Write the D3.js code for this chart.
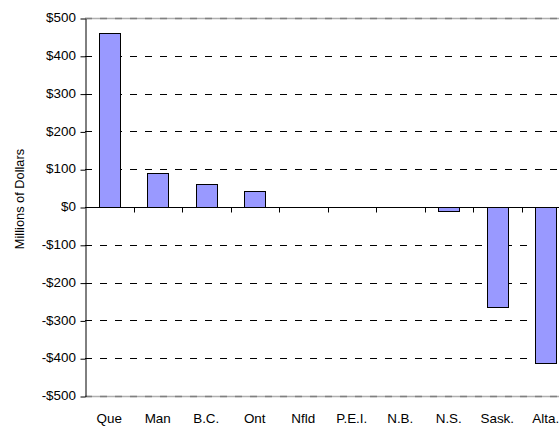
<!DOCTYPE html>
<html>
<head>
<meta charset="utf-8">
<script src="https://cdn.jsdelivr.net/npm/d3@7"></script>
<style>
  body { margin: 0; background: #fff; }
  svg { display: block; font-family: "Liberation Sans", Arial, sans-serif; }
  .tick-label { font-size: 12px; fill: #000; }
  .grid { stroke: #000; stroke-dasharray: 7,8; shape-rendering: crispEdges; }
  .bar { fill: #9999ff; stroke: #000; stroke-width: 1; }
</style>
</head>
<body>
<svg id="chart" width="559" height="427"></svg>
<script>
// data
const provinces = ["Que", "Man", "B.C.", "Ont", "Nfld", "P.E.I.", "N.B.", "N.S.", "Sask.", "Alta."];
const amounts = [460, 91, 61, 43, 0, 0, 0, -11, -264, -414];
const yTicks = [500, 400, 300, 200, 100, 0, -100, -200, -300, -400, -500];

const svg = d3.select("#chart");
const plotLeft = 85, plotTop = 18, plotW = 485, plotH = 378;
const stretch = 1.12; // the source picture's text is a bit wide

const x = d3.scaleBand().domain(provinces).range([plotLeft, plotLeft + plotW]).paddingInner(0.57).paddingOuter(0.285);
const y = d3.scaleLinear().domain([-500, 500]).range([plotTop + plotH, plotTop]);
const xGrid = d3.scaleBand().domain(provinces).range([plotLeft, plotLeft + plotW]);

const fmt = v => (v < 0 ? "-$" : "$") + Math.abs(v);

// gridlines
svg.append("g").selectAll("line")
  .data(yTicks.filter(v => v !== 0 && Math.abs(v) !== 500))
  .join("line")
  .attr("class", "grid")
  .attr("x1", plotLeft).attr("x2", plotLeft + plotW)
  .attr("y1", d => Math.round(y(d)) + 0.5).attr("y2", d => Math.round(y(d)) + 0.5);

// top and bottom frame lines, gray
[500, -500].forEach(v => {
  const yy = Math.round(y(v)) + 0.5;
  svg.append("line").attr("x1", plotLeft).attr("x2", plotLeft + plotW).attr("y1", yy).attr("y2", yy)
    .attr("stroke", "#b0b0b0").attr("stroke-width", 1.5);
  svg.append("line").attr("x1", plotLeft).attr("x2", plotLeft + plotW).attr("y1", yy).attr("y2", yy)
    .attr("stroke", "#808080").attr("stroke-width", 1.5).attr("stroke-dasharray", "7,8");
});

// bars
svg.append("g").selectAll("rect")
  .data(provinces.map((p, i) => ({ p, v: amounts[i] })).filter(d => d.v !== 0))
  .join("rect")
  .attr("class", "bar")
  .attr("x", d => Math.round(x(d.p)) + 0.5)
  .attr("width", Math.round(x.bandwidth()))
  .attr("y", d => Math.round(y(Math.max(0, d.v))) + 0.5)
  .attr("height", d => Math.round(Math.abs(y(d.v) - y(0))));

// y axis (line + ticks from d3, labels drawn stretched)
const yAxis = d3.axisLeft(y).tickValues(yTicks).tickFormat("").tickSize(5).tickSizeOuter(0);
const yg = svg.append("g").attr("transform", `translate(${plotLeft + 0.5},0.5)`).call(yAxis);
yg.select(".domain").attr("stroke", "#000");
svg.append("g").selectAll("text")
  .data(yTicks)
  .join("text")
  .attr("class", "tick-label")
  .attr("text-anchor", "end")
  .attr("dy", "0.35em")
  .attr("transform", d => `translate(76,${y(d)}) scale(${stretch},1)`)
  .text(fmt);

// zero line with category tick marks
const zy = Math.round(y(0)) + 0.5;
svg.append("line").attr("x1", plotLeft).attr("x2", plotLeft + plotW).attr("y1", zy).attr("y2", zy)
  .attr("stroke", "#000").attr("stroke-width", 1.2);
svg.append("g").selectAll("line")
  .data(provinces.slice(1))
  .join("line")
  .attr("x1", d => Math.round(xGrid(d)) + 0.5).attr("x2", d => Math.round(xGrid(d)) + 0.5)
  .attr("y1", zy).attr("y2", zy + 5)
  .attr("stroke", "#000");

// category labels
svg.append("g").selectAll("text")
  .data(provinces)
  .join("text")
  .attr("class", "tick-label")
  .attr("text-anchor", "middle")
  .attr("transform", d => `translate(${xGrid(d) + xGrid.bandwidth() / 2},423) scale(${stretch},1)`)
  .text(d => d);

// axis title
svg.append("text")
  .attr("class", "tick-label")
  .style("font-size", "12.8px")
  .attr("transform", "rotate(-90)")
  .attr("x", -199).attr("y", 24)
  .attr("text-anchor", "middle")
  .text("Millions of Dollars");
</script>
</body>
</html>
